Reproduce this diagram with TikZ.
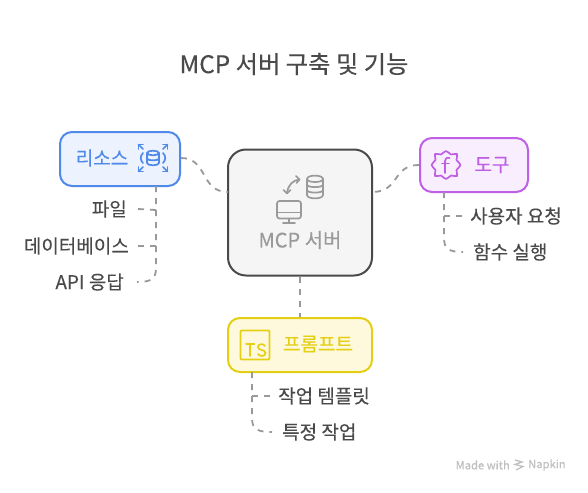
\documentclass[tikz,border=0pt]{standalone}
\usepackage{fontspec}
\setmainfont[FakeBold=0.25]{Noto Sans CJK KR}
\usetikzlibrary{arrows.meta}
\definecolor{ink}{HTML}{4A4A4A}
\definecolor{dash}{HTML}{999999}
\definecolor{iconGray}{HTML}{9A9A9A}
\definecolor{blueE}{HTML}{4F8AEB}
\definecolor{blueF}{HTML}{EDF3FE}
\definecolor{purpE}{HTML}{BE5FE6}
\definecolor{purpF}{HTML}{F9EEFE}
\definecolor{yelE}{HTML}{E5CF14}
\definecolor{yelF}{HTML}{FEF9DC}
\definecolor{grayF}{HTML}{F5F5F5}
\tikzset{
  box/.style={draw, line width=2pt, rounded corners=12pt, inner sep=0pt},
  conn/.style={draw=dash, line width=1.8pt, dash pattern=on 6pt off 6pt, line cap=butt},
  leaf/.style={text=ink, font=\fontsize{19}{20}\selectfont, inner sep=0pt},
  boxlabel/.style={font=\fontsize{19}{20}\selectfont, inner sep=0pt},
  icon/.style={line width=1.7pt, line cap=round, line join=round}
}
\begin{document}
\begin{tikzpicture}[x=1pt,y=-1pt]
\useasboundingbox (0,0) rectangle (588,492);
\fill[white] (0,0) rectangle (588,492);
\node[text=ink, font=\fontsize{24.3}{26}\selectfont, inner sep=0pt] (title) at (294,64) {MCP 서버 구축 및 기능};

% boxes
\node[box, draw=ink, fill=grayF, rounded corners=18pt, minimum width=144pt, minimum height=126pt] (mcp) at (300,212.5) {};
\node[box, draw=blueE, fill=blueF, minimum width=120pt, minimum height=54pt] (res) at (120,159) {};
\node[box, draw=purpE, fill=purpF, minimum width=108pt, minimum height=54pt] (tool) at (474,165) {};
\node[box, draw=yelE, fill=yelF, minimum width=144pt, minimum height=54pt] (prompt) at (300,345) {};

% box labels
\node[boxlabel, text=blueE] (resL) at (102,158) {리소스};
\node[boxlabel, text=purpE] (toolL) at (492,165) {도구};
\node[boxlabel, text=yelE] (promptL) at (318,344) {프롬프트};
\node[boxlabel, text=iconGray, font=\fontsize{20}{22}\selectfont] (mcpL) at (300,240) {MCP 서버};

% leaves
\node[leaf, anchor=east] (l1) at (127,209) {파일};
\node[leaf, anchor=east] (l2) at (129,246) {데이터베이스};
\node[leaf, anchor=east] (l3) at (124,282) {API 응답};
\node[leaf, anchor=west] (t1) at (470,216) {사용자 요청};
\node[leaf, anchor=west] (t2) at (473,252) {함수 실행};
\node[leaf, anchor=west] (p1) at (278,396) {작업 템플릿};
\node[leaf, anchor=west] (p2) at (282,432) {특정 작업};

% connector end points
\coordinate (mcpW) at (228,192);
\coordinate (mcpE) at (372,192);
\coordinate (resS) at (156,186);
\coordinate (toolS) at (444,192);
\coordinate (promptS) at (252,372);
\coordinate (l1e) at (138,209);
\coordinate (l2e) at (138,246);
\coordinate (l3e) at (137,282);
\coordinate (t1e) at (463,216);
\coordinate (t2e) at (463,252);
\coordinate (p1e) at (272,396);
\coordinate (p2e) at (272,432);

\path[conn] (res.east |- 0,158) .. controls (208,158) and (200,192) .. (mcpW);
\path[conn] (tool.west) .. controls (392,165) and (400,192) .. (mcpE);
\path[conn] (mcp.south) -- (prompt.north);
\path[conn] (resS) -- (156,268) .. controls (156,279) and (151,282) .. (l3e);
\path[conn] (156,210) -- (l1e);
\path[conn] (156,246) -- (l2e);
\path[conn] (toolS) -- (444,238) .. controls (444,249) and (449,252) .. (t2e);
\path[conn] (444,216) -- (t1e);
\path[conn] (promptS) -- (252,418) .. controls (252,429) and (257,432) .. (p2e);
\path[conn] (252,396) -- (p1e);

% resource icon
\begin{scope}[icon, draw=blueE, shift={(153,158)}]
  \draw (-6,-5) .. controls (-6,-8) and (6,-8) .. (6,-5) .. controls (6,-2) and (-6,-2) .. (-6,-5);
  \draw (-6,-5) -- (-6,5) .. controls (-6,8) and (6,8) .. (6,5) -- (6,-5);
  \draw (-6,0.5) .. controls (-6,3) and (6,3) .. (6,0.5);
  \draw (-10,-5) .. controls (-13,-2) and (-13,2) .. (-10,5);
  \draw (10,-5) .. controls (13,-2) and (13,2) .. (10,5);
  \foreach \sx/\sy in {-1/-1,1/-1,-1/1,1/1}{
    \draw (\sx*10,\sy*9) -- (\sx*14.5,\sy*13.5);
    \draw (\sx*14.5,\sy*9) -- (\sx*14.5,\sy*13.5) -- (\sx*10,\sy*13.5);
  }
\end{scope}

% tool icon
\begin{scope}[icon, draw=purpE, shift={(446,165)}]
  \draw plot[smooth cycle, tension=1] coordinates {
    (0,-14) (5,-10.5) (11,-11) (10.5,-5) (14.5,0) (10.5,5) (11,11) (5,10.5)
    (0,14) (-5,10.5) (-11,11) (-10.5,5) (-14.5,0) (-10.5,-5) (-11,-11) (-5,-10.5)};
  \draw (3.5,-7) .. controls (0.5,-8) and (-1,-6) .. (-1,-4) -- (-1,8);
  \draw (-4,-1.5) -- (3,-1.5);
\end{scope}

% prompt icon
\begin{scope}[icon, draw=yelE, shift={(255,345)}]
  \draw[rounded corners=1pt, line width=1.9pt] (-14.5,-14.5) rectangle (14.5,14.5);
  \draw (-9,-1) -- (-0.5,-1) (-4.75,-1) -- (-4.75,11);
  \draw (10,1) .. controls (8.5,-1.8) and (3,-1.5) .. (3,2) .. controls (3,6) and (10.5,4) .. (10.5,8)
    .. controls (10.5,12) and (4,11.5) .. (3,9);
\end{scope}

% mcp icon: database
\begin{scope}[icon, draw=iconGray, line width=1.7pt, shift={(315,187)}]
  \draw (-8,-8) .. controls (-8,-12.5) and (8,-12.5) .. (8,-8) .. controls (8,-4) and (-8,-4) .. (-8,-8);
  \draw (-8,-8) -- (-8,8) .. controls (-8,12.5) and (8,12.5) .. (8,8) -- (8,-8);
  \draw (-8,-2.5) .. controls (-8,1) and (8,1) .. (8,-2.5);
  \draw (-8,3) .. controls (-8,6.5) and (8,6.5) .. (8,3);
\end{scope}
% mcp icon: monitor
\begin{scope}[icon, draw=iconGray, line width=1.7pt, shift={(289,211)}]
  \draw[rounded corners=2.5pt] (-12,-10) rectangle (12,7.5);
  \draw (-12,1.5) -- (12,1.5);
  \draw (0,7.5) -- (0,12) (-6,12) -- (6,12);
\end{scope}
% mcp icon: exchange arrow
\begin{scope}[icon, draw=iconGray, line width=1.7pt]
  \draw (299.5,179.5) .. controls (293,180) and (288,185) .. (287,193);
  \draw (296,176) -- (299.5,179.5) -- (296.5,183);
  \draw (283.5,190) -- (287,193.5) -- (290.5,190);
\end{scope}

% footer
\node[text=black!25, font=\fontsize{11.2}{13}\selectfont, inner sep=0pt, anchor=east] (made) at (510,465) {Made with};
\node[text=black!25, font=\fontsize{11.2}{13}\selectfont, inner sep=0pt, anchor=west] (napkin) at (528,465) {Napkin};
\begin{scope}[draw=black!25, line width=1.3pt, shift={(519,465)}]
  \draw (-4,-5) -- (3,-3) -- (-4,-0.5) -- (4,1.5) -- (-3,5);
\end{scope}
\end{tikzpicture}
\end{document}
